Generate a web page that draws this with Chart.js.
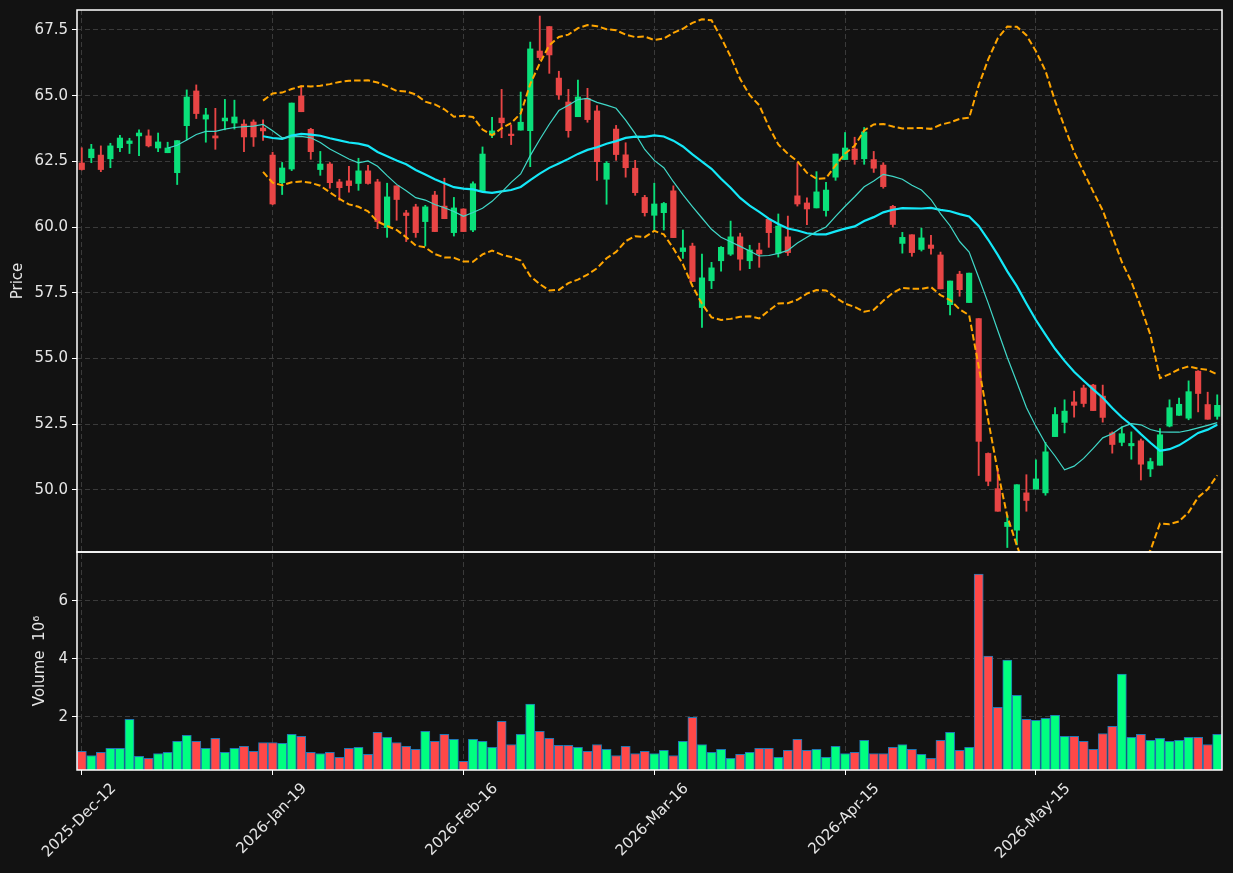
<!DOCTYPE html>
<html>
<head>
<meta charset="utf-8">
<title>Price and volume</title>
<script src="https://cdn.jsdelivr.net/npm/chart.js@4.4.1/dist/chart.umd.min.js"></script>
<style>
  html, body { margin: 0; padding: 0; background: #121212; }
  canvas { display: block; }
</style>
</head>
<body>
<canvas id="priceChart" width="1233" height="873"></canvas>
<script>
// daily OHLC, index 0 = 2025-Dec-12
const opens = [
  62.44, 62.64, 62.74, 62.60, 63.02, 63.18, 63.47, 63.47, 63.01, 62.83,
  62.07, 63.86, 65.18, 64.11, 63.47, 64.04, 63.96, 63.92, 64.00, 63.77,
  62.74, 61.69, 62.21, 64.99, 63.72, 62.19, 62.40, 61.72, 61.76, 61.66,
  62.14, 61.72, 59.98, 61.57, 60.54, 60.77, 60.21, 61.22, 60.80, 59.79,
  60.69, 59.89, 61.36, 63.50, 64.15, 63.54, 63.69, 63.67, 66.70, 67.63,
  65.67, 64.76, 64.20, 64.90, 64.42, 61.82, 63.73, 62.75, 62.24, 61.13,
  60.45, 60.55, 61.38, 59.07, 59.28, 56.94, 57.96, 58.72, 58.97, 59.63,
  58.72, 59.13, 60.30, 59.00, 59.63, 61.19, 60.92, 60.73, 60.63, 61.90,
  62.57, 62.97, 62.60, 62.57, 62.36, 60.79, 59.38, 59.71, 59.15, 59.32,
  58.94, 57.05, 58.21, 57.13, 56.52, 51.39, 50.05, 48.61, 48.47, 49.89,
  50.03, 49.89, 52.03, 52.57, 53.35, 53.88, 53.99, 53.57, 52.17, 51.81,
  51.68, 51.87, 50.80, 50.94, 52.43, 52.84, 52.73, 54.52, 53.25, 52.80
];
const highs = [
  63.02, 63.15, 63.09, 63.19, 63.49, 63.38, 63.70, 63.70, 63.58, 63.23,
  63.29, 65.22, 65.41, 64.52, 64.52, 64.86, 64.83, 64.08, 64.08, 64.08,
  62.85, 62.46, 64.72, 65.38, 63.76, 62.88, 62.46, 61.82, 62.31, 62.62,
  62.35, 61.82, 61.67, 61.57, 60.64, 60.87, 60.83, 61.36, 61.86, 61.13,
  60.70, 61.72, 63.05, 64.18, 65.24, 63.89, 65.14, 67.04, 68.03, 67.63,
  65.93, 65.24, 65.59, 65.28, 64.62, 62.49, 63.87, 63.21, 62.54, 61.21,
  61.67, 60.94, 61.57, 59.89, 59.39, 58.97, 58.66, 59.26, 60.23, 59.77,
  59.31, 59.39, 60.32, 60.50, 60.42, 62.45, 61.11, 62.11, 61.70, 62.78,
  63.60, 63.42, 63.79, 62.88, 62.45, 60.83, 59.80, 59.71, 59.96, 59.69,
  59.05, 57.95, 58.32, 58.25, 56.52, 51.41, 50.82, 49.03, 50.20, 50.58,
  51.15, 51.81, 53.13, 53.43, 53.76, 53.99, 54.02, 53.99, 52.21, 52.40,
  52.21, 51.94, 51.21, 52.34, 53.43, 53.50, 54.15, 54.54, 53.72, 53.62
];
const lows = [
  62.17, 62.45, 62.11, 62.26, 62.87, 62.80, 62.72, 63.05, 62.87, 62.83,
  61.62, 63.32, 64.13, 63.23, 62.96, 63.70, 63.73, 62.87, 63.07, 63.30,
  60.85, 61.24, 62.15, 64.39, 62.58, 61.97, 61.48, 61.02, 61.33, 61.40,
  61.63, 59.94, 59.61, 60.26, 59.45, 59.61, 59.28, 59.83, 60.32, 59.66,
  59.83, 59.83, 61.36, 63.40, 63.40, 63.14, 63.69, 62.30, 66.36, 65.85,
  64.86, 63.42, 64.20, 63.99, 61.78, 60.87, 62.54, 61.90, 61.21, 60.42,
  59.83, 59.89, 59.60, 58.81, 57.93, 56.18, 57.66, 58.32, 58.92, 58.36,
  58.42, 58.47, 59.23, 58.86, 58.92, 60.80, 60.09, 60.73, 60.42, 61.78,
  62.57, 62.39, 62.39, 62.08, 61.48, 60.00, 59.01, 58.89, 59.09, 58.97,
  57.65, 56.66, 57.37, 57.13, 50.55, 50.16, 49.19, 47.81, 47.91, 49.19,
  50.03, 49.80, 52.03, 52.17, 52.77, 53.16, 53.02, 52.58, 51.40, 51.68,
  51.17, 50.38, 50.51, 50.94, 52.40, 52.84, 52.67, 52.97, 52.69, 52.69
];
const closes = [
  62.19, 62.97, 62.19, 63.09, 63.39, 63.28, 63.58, 63.09, 63.24, 63.01,
  63.29, 64.95, 64.32, 64.27, 63.39, 64.15, 64.19, 63.43, 63.43, 63.66,
  60.88, 62.25, 64.72, 64.39, 62.87, 62.40, 61.69, 61.50, 61.58, 62.14,
  61.66, 60.21, 61.15, 61.05, 60.44, 59.79, 60.77, 59.83, 60.32, 60.73,
  59.83, 61.65, 62.78, 63.66, 63.97, 63.48, 63.99, 66.78, 66.45, 66.55,
  65.03, 63.67, 64.95, 64.09, 62.49, 62.43, 62.76, 62.26, 61.31, 60.55,
  60.88, 60.90, 59.60, 59.21, 57.93, 58.07, 58.45, 59.23, 59.63, 58.78,
  59.13, 58.98, 59.79, 60.04, 59.03, 60.88, 60.69, 61.34, 61.41, 62.78,
  63.01, 62.57, 63.62, 62.24, 61.54, 60.10, 59.61, 59.03, 59.59, 59.19,
  57.65, 57.95, 57.62, 58.25, 51.85, 50.33, 49.19, 48.77, 50.20, 49.60,
  50.42, 51.45, 52.87, 53.00, 53.22, 53.29, 53.02, 52.76, 51.73, 52.14,
  51.77, 50.98, 51.08, 52.10, 53.13, 53.26, 53.74, 53.67, 52.69, 53.22
];
// volume in millions
const volumes = [
  0.81, 0.67, 0.78, 0.92, 0.92, 1.92, 0.64, 0.57, 0.74, 0.78,
  1.16, 1.37, 1.16, 0.92, 1.26, 0.78, 0.92, 0.99, 0.81, 1.12,
  1.12, 1.09, 1.40, 1.33, 0.78, 0.74, 0.78, 0.61, 0.92, 0.95,
  0.71, 1.47, 1.30, 1.12, 0.99, 0.88, 1.50, 1.16, 1.40, 1.23,
  0.47, 1.23, 1.16, 0.95, 1.85, 1.05, 1.40, 2.44, 1.50, 1.26,
  1.02, 1.02, 0.95, 0.81, 1.05, 0.88, 0.67, 0.99, 0.74, 0.81,
  0.74, 0.85, 0.67, 1.16, 1.99, 1.05, 0.78, 0.88, 0.57, 0.71,
  0.78, 0.92, 0.92, 0.61, 0.85, 1.23, 0.85, 0.88, 0.61, 0.99,
  0.74, 0.78, 1.19, 0.74, 0.74, 0.95, 1.05, 0.88, 0.71, 0.57,
  1.19, 1.47, 0.85, 0.95, 6.93, 4.10, 2.33, 3.96, 2.75, 1.92,
  1.88, 1.95, 2.06, 1.33, 1.33, 1.16, 0.88, 1.43, 1.68, 3.48,
  1.30, 1.40, 1.19, 1.26, 1.16, 1.19, 1.30, 1.30, 1.05, 1.40
];

const xTickIdx = [0, 20, 40, 60, 80, 100];
const xTickLabels = ['2025-Dec-12', '2026-Jan-19', '2026-Feb-16', '2026-Mar-16', '2026-Apr-15', '2026-May-15'];
const priceTicks = [50, 52.5, 55, 57.5, 60, 62.5, 65, 67.5];
const volTicks = [2, 4, 6];

// moving averages and bollinger bands of the close
function rollingMean(vals, n) {
    return vals.map((_, i) => {
        if (i < n - 1) return null;
        const win = vals.slice(i - n + 1, i + 1);
        return win.reduce((a, b) => a + b, 0) / n;
    });
}
function rollingStd(vals, n) {
    return vals.map((_, i) => {
        if (i < n - 1) return null;
        const win = vals.slice(i - n + 1, i + 1);
        const m = win.reduce((a, b) => a + b, 0) / n;
        return Math.sqrt(win.reduce((a, b) => a + (b - m) * (b - m), 0) / (n - 1));
    });
}
const ma10 = rollingMean(closes, 10);
const ma20 = rollingMean(closes, 20);
const sd20 = rollingStd(closes, 20);
const bbUpper = ma20.map((m, i) => m === null ? null : m + 2 * sd20[i]);
const bbLower = ma20.map((m, i) => m === null ? null : m - 2 * sd20[i]);

const upCandle = '#0ae07a';
const downCandle = '#e84545';
const upVol = '#00ff80';
const downVol = '#ff4848';
const textColor = '#e6e6e6';
const gridColor = '#3a3a3a';
const font = { family: 'DejaVu Sans', size: 15 };

const isUp = closes.map((c, i) => c >= opens[i]);
const toXY = arr => arr.map((v, i) => ({ x: i, y: v }));

const bg = {
    id: 'bg',
    beforeDraw(chart) {
        const ctx = chart.ctx;
        ctx.save();
        ctx.fillStyle = '#121212';
        ctx.fillRect(0, 0, chart.width, chart.height);
        ctx.restore();
    }
};
const panelFrame = {
    id: 'panelFrame',
    afterDraw(chart) {
        const { ctx, chartArea, scales } = chart;
        ctx.save();
        ctx.strokeStyle = '#ffffff';
        ctx.lineWidth = 1.5;
        [scales.y, scales.vol].forEach(s => {
            ctx.strokeRect(chartArea.left, s.top, chartArea.right - chartArea.left, s.bottom - s.top);
        });
        ctx.restore();
    }
};

const lineDs = (label, data, color, width, dash) => ({
    type: 'line', label, data: toXY(data), yAxisID: 'y', order: 0,
    borderColor: color, borderWidth: width, borderDash: dash || [],
    pointRadius: 0, tension: 0, spanGaps: false, fill: false
});

// fixed axis widths, no label overflow padding
const fitLeftAxis = s => {
    s.width = 77;
    s.paddingTop = 0;
    s.paddingBottom = 0;
};

const ctx = document.getElementById('priceChart').getContext('2d');
const priceChart = new Chart(ctx, {
    type: 'bar',
    data: {
        datasets: [
            lineDs('MA10', ma10, '#40d8c8', 1.2),
            lineDs('MA20', ma20, '#14e8f8', 2.2),
            lineDs('Upper', bbUpper, '#ffa500', 2, [6.5, 3]),
            lineDs('Lower', bbLower, '#ffa500', 2, [6.5, 3]),
            {
                label: 'Body', yAxisID: 'y', order: 1, grouped: false,
                data: opens.map((o, i) => ({ x: i, y: [Math.min(o, closes[i]), Math.max(o, closes[i])] })),
                backgroundColor: isUp.map(u => u ? upCandle : downCandle),
                barThickness: 5.5, borderWidth: 0
            },
            {
                label: 'Wick', yAxisID: 'y', order: 2, grouped: false,
                data: lows.map((l, i) => ({ x: i, y: [l, highs[i]] })),
                backgroundColor: isUp.map(u => u ? upCandle : downCandle),
                barThickness: 1.2, borderWidth: 0
            },
            {
                label: 'Volume', yAxisID: 'vol', order: 1, grouped: false,
                data: toXY(volumes),
                backgroundColor: isUp.map(u => u ? upVol : downVol),
                borderColor: '#1f77b4', borderWidth: 1, borderSkipped: 'start',
                barThickness: 9.2
            }
        ]
    },
    options: {
        responsive: false,
        animation: false,
        layout: { padding: { left: 0, right: 11, top: 10, bottom: 0 } },
        plugins: { legend: { display: false }, tooltip: { enabled: false } },
        scales: {
            x: {
                type: 'linear', position: 'bottom', min: -0.5, max: 119.5, offset: false,
                afterBuildTicks: s => { s.ticks = xTickIdx.map(v => ({ value: v })); },
                afterFit: s => { s.height = 103; },
                ticks: {
                    color: textColor, font, autoSkip: false,
                    minRotation: 45, maxRotation: 45, labelOffset: 32, padding: 5,
                    callback: v => xTickLabels[xTickIdx.indexOf(v)] || ''
                },
                grid: { offset: false, color: gridColor, tickColor: '#ffffff', tickLength: 5, lineWidth: 1 },
                border: { display: false, dash: [5, 3] }
            },
            vol: {
                type: 'linear', position: 'left', stack: 'panels', stackWeight: 218,
                min: 0.17, max: 7.69,
                afterBuildTicks: s => { s.ticks = volTicks.map(v => ({ value: v })); },
                afterFit: fitLeftAxis,
                ticks: { color: textColor, font, padding: 4, callback: v => String(v) },
                grid: { color: gridColor, tickColor: '#ffffff', tickLength: 5, lineWidth: 1 },
                border: { display: false, dash: [5, 3] },
                title: { display: true, text: 'Volume  10\u2076', color: textColor, font, padding: { top: 31, bottom: 0 } }
            },
            y: {
                type: 'linear', position: 'left', stack: 'panels', stackWeight: 542,
                min: 47.64, max: 68.26,
                afterBuildTicks: s => { s.ticks = priceTicks.map(v => ({ value: v })); },
                afterFit: fitLeftAxis,
                ticks: { color: textColor, font, padding: 4, callback: v => v.toFixed(1) },
                grid: { color: gridColor, tickColor: '#ffffff', tickLength: 5, lineWidth: 1 },
                border: { display: false, dash: [5, 3] },
                title: { display: true, text: 'Price', color: textColor, font, padding: { top: 9, bottom: 0 } }
            }
        }
    },
    plugins: [bg, panelFrame]
});
</script>
</body>
</html>
